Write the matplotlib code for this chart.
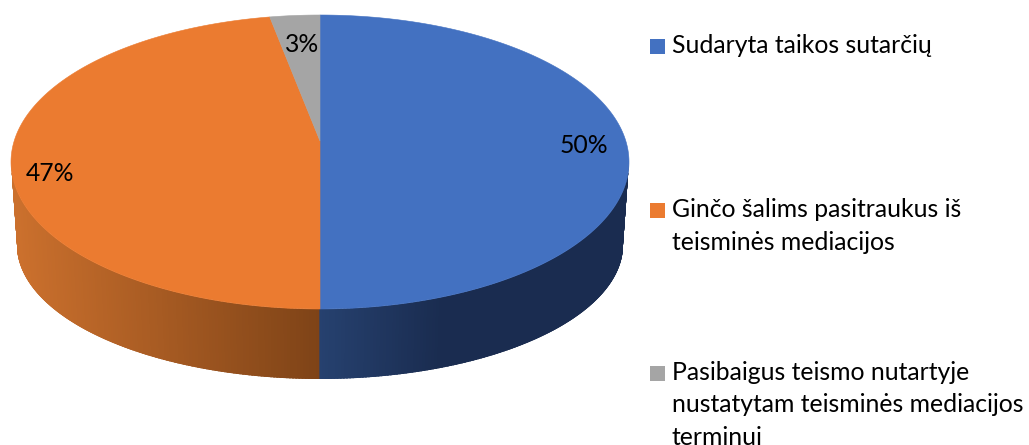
import numpy as np
import matplotlib
matplotlib.use('Agg')
import matplotlib.pyplot as plt
from matplotlib.collections import PolyCollection
from matplotlib.colors import to_rgb
from matplotlib.patches import Polygon, Rectangle

# chart data
values = [50, 47, 3]
pct_labels = ['50%', '47%', '3%']
legend_lines = [
    ['Sudaryta taikos sutarčių'],
    ['Ginčo šalims pasitraukus iš', 'teisminės mediacijos'],
    ['Pasibaigus teismo nutartyje', 'nustatytam teisminės mediacijos', 'terminui'],
]
top_colors = ['#4371C1', '#EB7B30', '#A5A5A5']

# side shading: colour at the x where the ramp starts and where it ends
side_ramps = [
    (320, 440, '#26416F', '#1A2C50'),
    (15, 320, '#CB702D', '#7E4317'),
    (250, 320, '#6A6A6A', '#5A5A5A'),
]

# geometry of the fake 3D disc, in pixels of the reference
cx, cy, rx, ry = 320, 162, 309, 147
bot_cy, bot_rx, bot_ry = 245, 303, 134
tilt = 21 / 147   # how far the pie centre sits above the ellipse centre
stretch = np.sqrt(1 - tilt**2)

plt.rcParams['font.family'] = ['Lato', 'DejaVu Sans']
font_size = 17.8

fig = plt.figure(figsize=(10.29, 4.45), dpi=100)
ax = fig.add_axes([0, 0, 1, 1])
ax.set_xlim(0, 1029)
ax.set_ylim(445, 0)
ax.axis('off')

fractions = np.array(values) / sum(values)
edges = np.concatenate(([0], np.cumsum(fractions))) * 2 * np.pi


# perspective map from the unit circle (t clockwise from the top) to the ellipse
def project(t, r=1.0):
    x = r * np.sin(t)
    y = r * np.cos(t)
    w = tilt * y + 1
    return cx + rx * stretch * x / w, cy - ry * (y + tilt) / w


# which pie angle sits under a point given as ellipse parameter u
def ellipse_to_angle(u):
    ex, ey = np.cos(u), -np.sin(u)
    y = (ey - tilt) / (1 - tilt * ey)
    x = ex * (tilt * y + 1) / stretch
    return np.mod(np.arctan2(x, y), 2 * np.pi)


# side wall, thin quads between the front rim and the lower rim
us = np.linspace(0, np.pi, 300)
quads = []
quad_colors = []
for u0, u1 in zip(us[:-1], us[1:]):
    um = (u0 + u1) / 2
    ind = np.searchsorted(edges, ellipse_to_angle(um)) - 1
    ind = min(max(ind, 0), len(values) - 1)
    xm = cx + rx * np.cos(um)
    x0, x1, c0, c1 = side_ramps[ind]
    f = np.clip((xm - x0) / (x1 - x0), 0, 1)
    quad_colors.append(tuple(np.array(to_rgb(c0)) * (1 - f) + np.array(to_rgb(c1)) * f))
    quads.append([
        (cx + rx * np.cos(u0), cy + ry * np.sin(u0)),
        (cx + rx * np.cos(u1), cy + ry * np.sin(u1)),
        (cx + bot_rx * np.cos(u1), bot_cy + bot_ry * np.sin(u1)),
        (cx + bot_rx * np.cos(u0), bot_cy + bot_ry * np.sin(u0)),
    ])

# outline of the wall, keeps the thick quad edges from poking out
outline = np.r_[
    np.c_[cx + rx * np.cos(us), cy + ry * np.sin(us)],
    np.c_[cx + bot_rx * np.cos(us[::-1]), bot_cy + bot_ry * np.sin(us[::-1])],
]
wall_clip = Polygon(outline, closed=True, transform=ax.transData)
wall = PolyCollection(quads, facecolors=quad_colors, edgecolors=quad_colors, linewidths=1.4)
ax.add_collection(wall)
wall.set_clip_path(wall_clip)

# top face
for i, color in enumerate(top_colors):
    t = np.linspace(edges[i], edges[i + 1], 300)
    px, py = project(t)
    apex_x, apex_y = project(0.0, 0.0)
    ax.fill(np.r_[apex_x, px], np.r_[apex_y, py], color=color, lw=0.4, zorder=3)

# percent labels
ax.text(583.5, 153, pct_labels[0], fontsize=font_size, ha='center', va='baseline', color='black', zorder=4)
ax.text(50.5, 181, pct_labels[1], fontsize=font_size, ha='center', va='baseline', color='black', zorder=4)
ax.text(302.5, 52, pct_labels[2], fontsize=font_size, ha='center', va='baseline', color='black', zorder=4)

# legend, spaced by hand since the entries wrap
entry_y = [53, 217, 380]
for lines, color, y in zip(legend_lines, top_colors, entry_y):
    ax.add_patch(Rectangle((650, y - 14), 15, 15, facecolor=color, edgecolor='none'))
    for k, line in enumerate(lines):
        ax.text(672, y + k * 32.5, line, fontsize=font_size, ha='left', va='baseline', color='black')

fig.savefig('out.png', dpi=100)
